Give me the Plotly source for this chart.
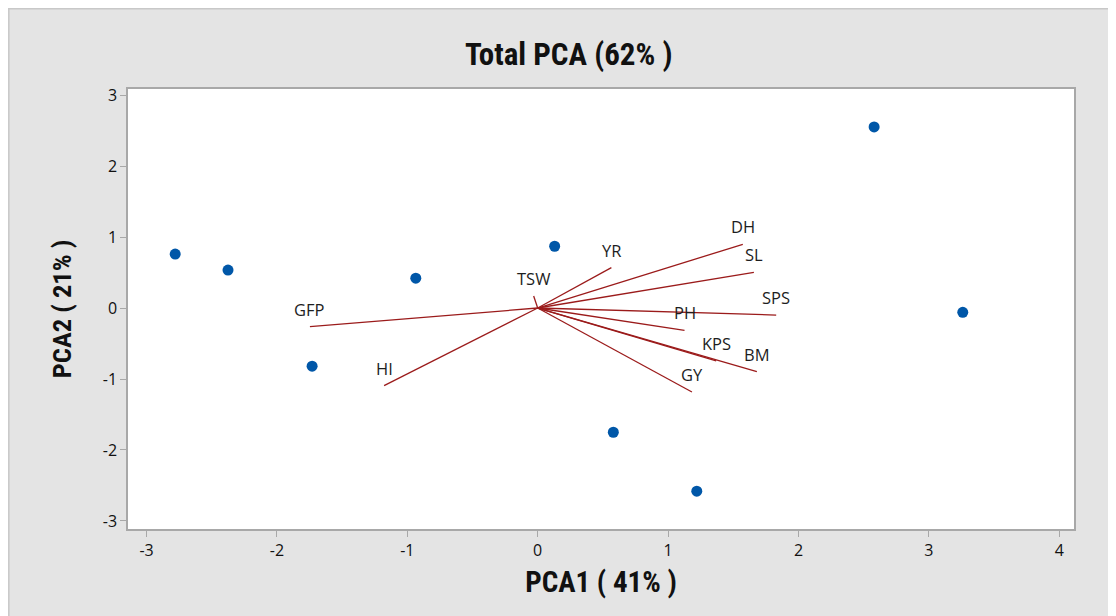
import plotly.graph_objects as go

# Observation scores
score_pc1 = [-2.78, -2.375, -0.935, -1.73, 0.13, 0.58, 1.22, 2.58, 3.26]
score_pc2 = [0.76, 0.535, 0.42, -0.82, 0.87, -1.75, -2.58, 2.55, -0.06]

# Variable loadings (vector ends)
var_names = ["DH", "SL", "SPS", "PH", "KPS", "BM", "GY", "YR", "TSW", "GFP", "HI"]
load_pc1 = [1.573, 1.658, 1.829, 1.126, 1.369, 1.681, 1.183, 0.565, -0.031, -1.747, -1.178]
load_pc2 = [0.897, 0.503, -0.099, -0.314, -0.746, -0.897, -1.183, 0.568, 0.169, -0.263, -1.094]

x_ticks = [-3, -2, -1, 0, 1, 2, 3, 4]
x_tick_text = ["-3", "-2", "-1", "0", "1", "2", "3", "4"]
y_ticks = [-3, -2, -1, 0, 1, 2, 3]
y_tick_text = ["-3", "-2", "-1", "0", "1", "2", "3"]

W, H = 1116, 616
L, R, T, B = 120, 49.5, 81, 95

cond = "Liberation Sans Narrow, Roboto Condensed, Roboto, sans-serif"
reg = "Open Sans, Noto Sans, DejaVu Sans, sans-serif"

vx, vy = [], []
for a, b in zip(load_pc1, load_pc2):
    vx += [0, a, None]
    vy += [0, b, None]

fig = go.Figure()
fig.add_trace(go.Scatter(x=vx, y=vy, mode="lines",
                         line=dict(color="#9b1b1b", width=1.3),
                         hoverinfo="skip", showlegend=False))
fig.add_trace(go.Scatter(x=score_pc1, y=score_pc2, mode="markers",
                         marker=dict(color="#0057a8", size=11),
                         showlegend=False))

for n, a, b in zip(var_names, load_pc1, load_pc2):
    fig.add_annotation(x=a, y=b, text=n, showarrow=False, yshift=17.5,
                       font=dict(family=reg, size=16.5, color="#1e1e1e"))

pw = W - L - R
ph = H - T - B
def px(xpix):
    return (xpix - L) / pw
def py(ypix):
    return (H - B - ypix) / ph

shapes = [
    dict(type="line", xref="paper", yref="paper", x0=px(0), x1=px(W), y0=py(0.75), y1=py(0.75),
         line=dict(color="#c8c8c8", width=1.5), layer="below"),
    dict(type="line", xref="paper", yref="paper", x0=px(0.75), x1=px(0.75), y0=py(0), y1=py(H),
         line=dict(color="#c8c8c8", width=1.5), layer="below"),
]

fig.update_layout(
    width=W, height=H,
    margin=dict(l=L, r=R, t=T, b=B),
    paper_bgcolor="#e4e4e4",
    plot_bgcolor="white",
    shapes=shapes,
    title=dict(text="<b>Total PCA (62% )</b>", x=px(561), xref="paper", xanchor="center",
               y=1 - 46.5 / H, yref="container", yanchor="middle",
               font=dict(family=cond, size=31, color="#111111")),
    xaxis=dict(range=[-3.142, 4.113], tickvals=x_ticks, ticktext=x_tick_text,
               showgrid=False, zeroline=False,
               showline=True, mirror=True, linecolor="#a8a8a8", linewidth=1.5,
               ticks="outside", ticklen=6, tickcolor="#a8a8a8",
               tickfont=dict(family=reg, size=16, color="#111111"),
               title=dict(text="<b>PCA1 ( 41% )</b>", standoff=12,
                          font=dict(family=cond, size=29, color="#111111"))),
    yaxis=dict(range=[-3.113, 3.085], tickvals=y_ticks, ticktext=y_tick_text,
               showgrid=False, zeroline=False,
               showline=True, mirror=True, linecolor="#a8a8a8", linewidth=1.5,
               ticks="outside", ticklen=6, tickcolor="#a8a8a8",
               tickfont=dict(family=reg, size=16, color="#111111"),
               title=dict(text="<b>PCA2 ( 21% )</b>", standoff=23,
                          font=dict(family=cond, size=26.5, color="#111111"))),
)

fig.write_html("out.html")
